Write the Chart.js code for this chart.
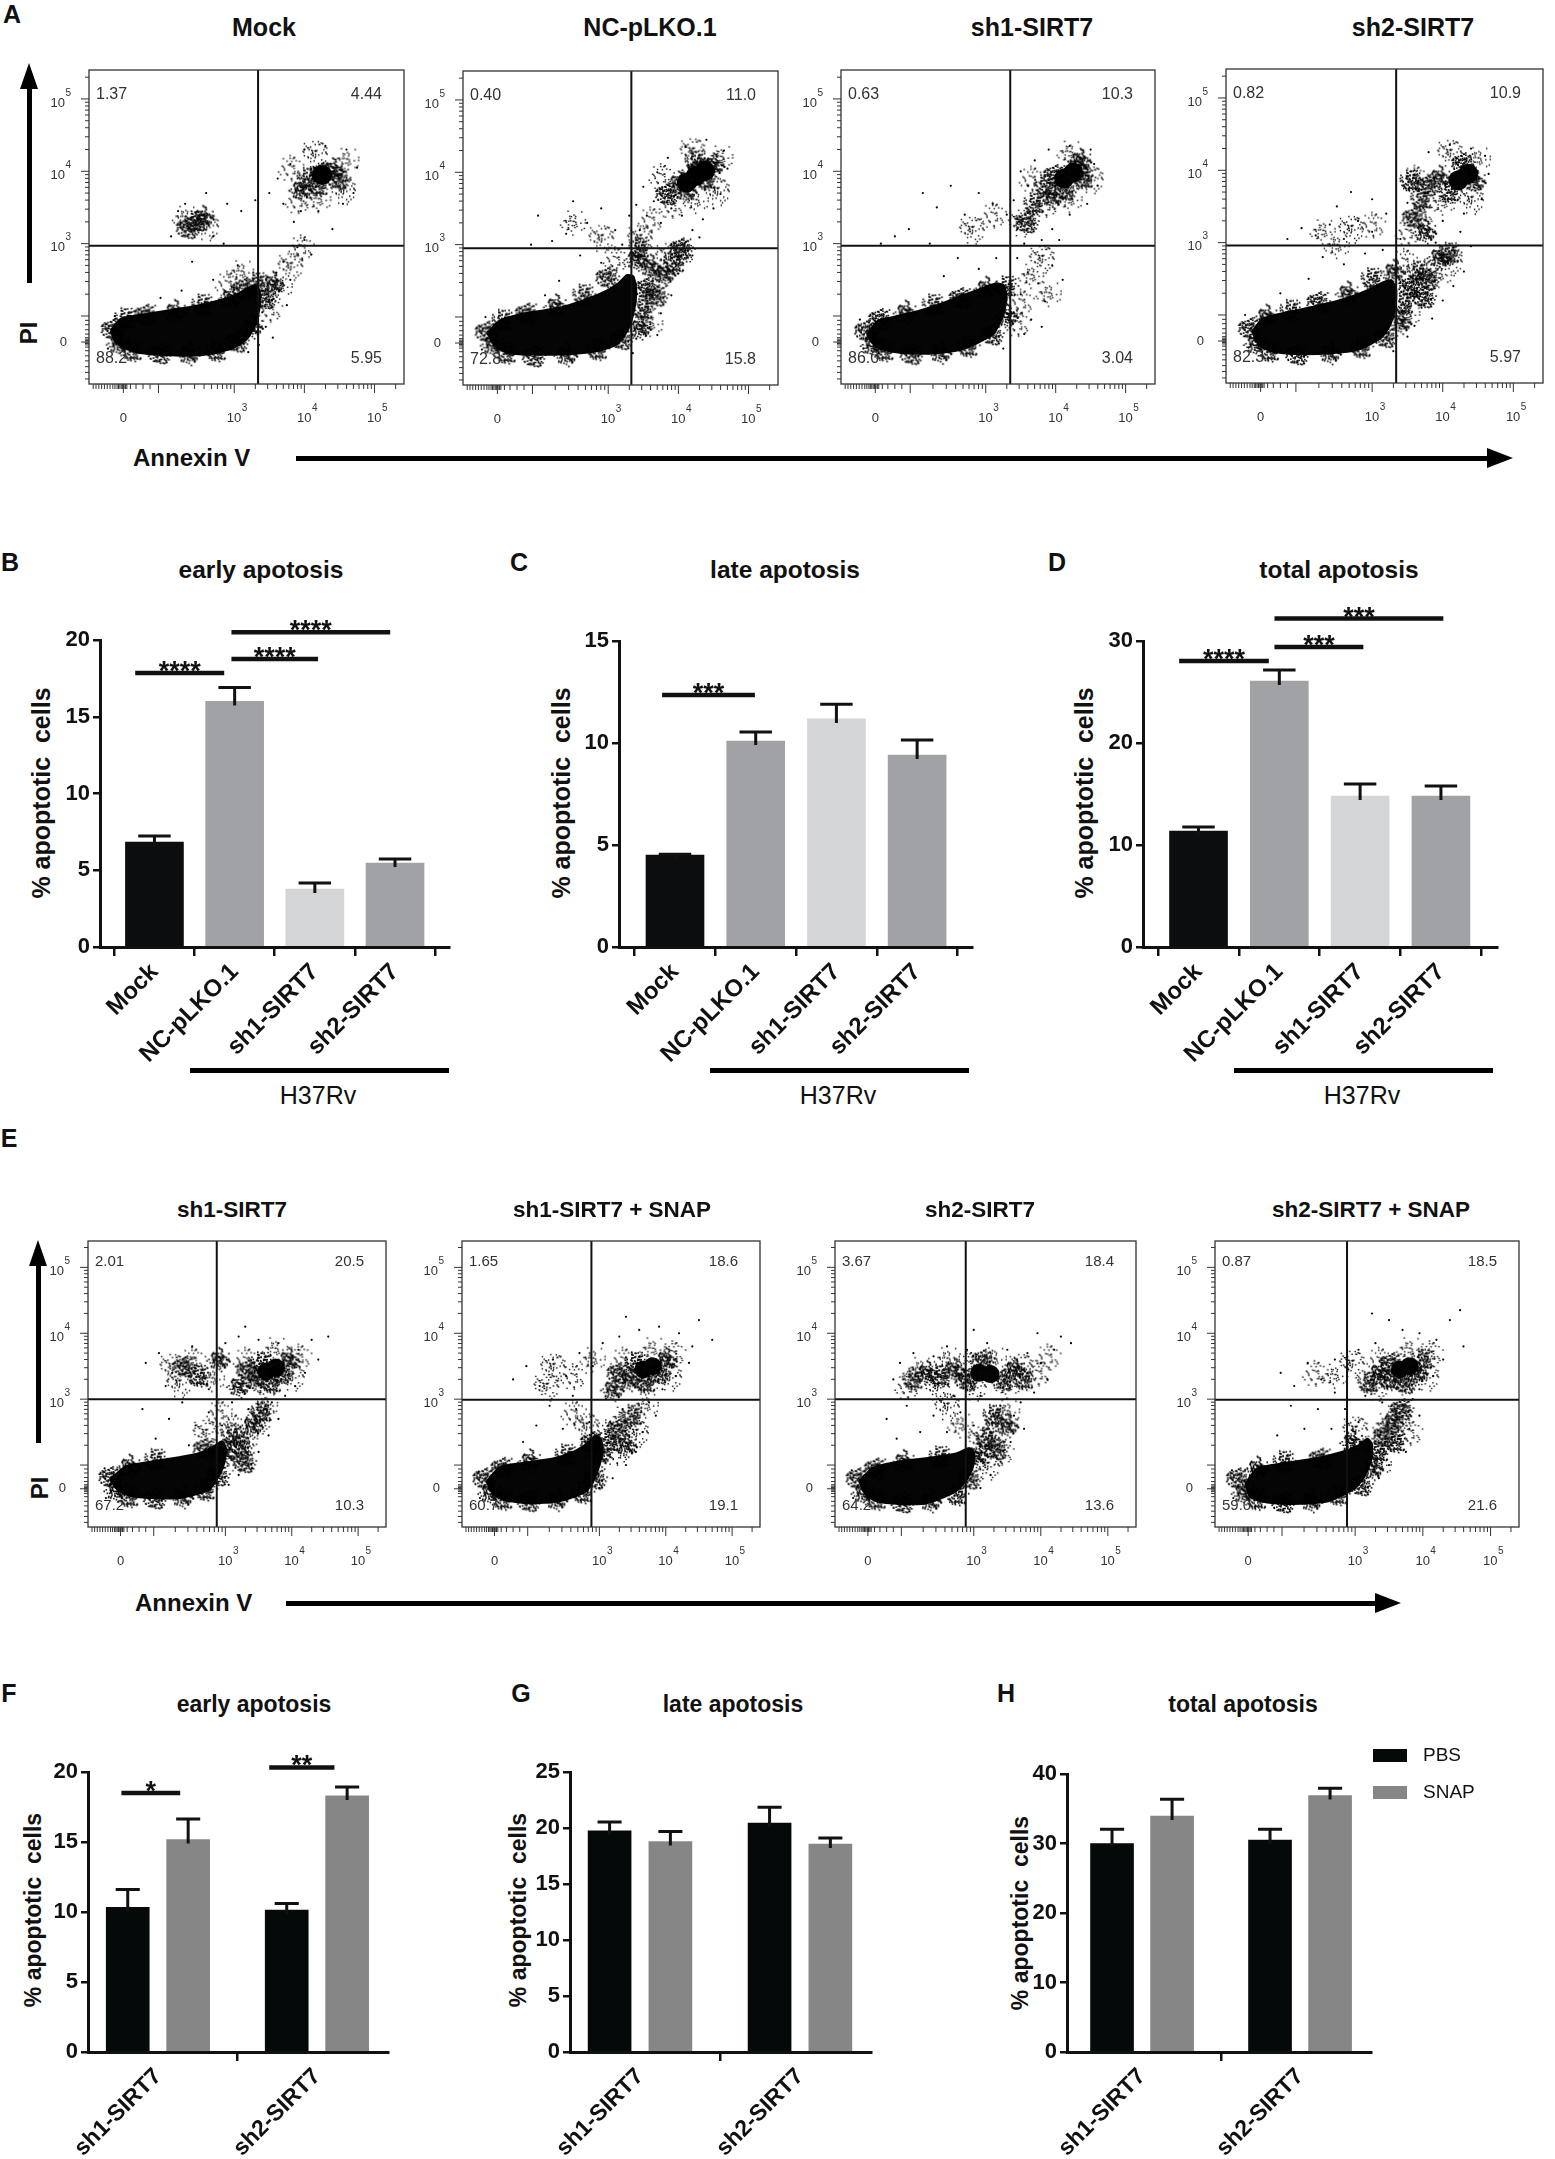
<!DOCTYPE html>
<html>
<head>
<meta charset="utf-8">
<script src="https://cdn.jsdelivr.net/npm/chart.js@4.4.1/dist/chart.umd.min.js"></script>
<style>
  html, body { margin: 0; padding: 0; background: #fff; }
  body { position: relative; width: 1555px; height: 2159px; overflow: hidden; font-family: "Liberation Sans", Arial, sans-serif; color: #111; }
  canvas { position: absolute; }
  .t { position: absolute; white-space: pre; line-height: 1; transform: translate(-50%, -50%); }
  .tl { position: absolute; white-space: pre; line-height: 1; transform: translate(0, -50%); }
  .b { font-weight: bold; }
  .rot { transform: translate(-50%, -50%) rotate(-90deg); }
  .bar { position: absolute; background: #000; }
  .headR { position: absolute; width: 0; height: 0; border-top: 10px solid transparent; border-bottom: 10px solid transparent; border-left: 26px solid #000; }
  .headU { position: absolute; width: 0; height: 0; border-left: 9px solid transparent; border-right: 9px solid transparent; border-bottom: 26px solid #000; }
</style>
</head>
<body>
<!-- panel letters -->
<div class="t b" style="left:12px;top:14px;font-size:25px">A</div>
<div class="t b" style="left:10px;top:562px;font-size:25px">B</div>
<div class="t b" style="left:519px;top:562px;font-size:25px">C</div>
<div class="t b" style="left:1057px;top:562px;font-size:25px">D</div>
<div class="t b" style="left:9px;top:1138px;font-size:25px">E</div>
<div class="t b" style="left:9px;top:1693px;font-size:25px">F</div>
<div class="t b" style="left:521px;top:1693px;font-size:25px">G</div>
<div class="t b" style="left:1006px;top:1693px;font-size:25px">H</div>

<!-- bar chart titles -->
<div class="t b" style="left:261px;top:570px;font-size:24.5px">early apotosis</div>
<div class="t b" style="left:785px;top:570px;font-size:24.5px">late apotosis</div>
<div class="t b" style="left:1339px;top:570px;font-size:24.5px">total apotosis</div>
<div class="t b" style="left:254px;top:1704px;font-size:23px">early apotosis</div>
<div class="t b" style="left:733px;top:1704px;font-size:23px">late apotosis</div>
<div class="t b" style="left:1243px;top:1704px;font-size:23px">total apotosis</div>

<!-- y axis titles -->
<div class="t b rot" style="left:41px;top:793px;font-size:25px">% apoptotic  cells</div>
<div class="t b rot" style="left:561px;top:793px;font-size:25px">% apoptotic  cells</div>
<div class="t b rot" style="left:1084px;top:793px;font-size:25px">% apoptotic  cells</div>
<div class="t b rot" style="left:33px;top:1910px;font-size:23px">% apoptotic  cells</div>
<div class="t b rot" style="left:518px;top:1910px;font-size:23px">% apoptotic  cells</div>
<div class="t b rot" style="left:1020px;top:1913px;font-size:23px">% apoptotic  cells</div>

<!-- H37Rv group marks -->
<div class="bar" style="left:190px;top:1068px;width:259px;height:5px"></div>
<div class="bar" style="left:710px;top:1068px;width:259px;height:5px"></div>
<div class="bar" style="left:1234px;top:1068px;width:259px;height:5px"></div>
<div class="t" style="left:318px;top:1095px;font-size:25px">H37Rv</div>
<div class="t" style="left:838px;top:1095px;font-size:25px">H37Rv</div>
<div class="t" style="left:1362px;top:1095px;font-size:25px">H37Rv</div>

<!-- axis arrows for the dot plots -->
<div class="t b rot" style="left:29px;top:333px;font-size:24px">PI</div>
<div class="bar" style="left:27px;top:88px;width:5px;height:195px"></div>
<div class="headU" style="left:20px;top:63px"></div>
<div class="tl b" style="left:133px;top:458px;font-size:24px">Annexin V</div>
<div class="bar" style="left:296px;top:456px;width:1192px;height:5px"></div>
<div class="headR" style="left:1487px;top:448px"></div>

<div class="t b rot" style="left:40px;top:1488px;font-size:24px">PI</div>
<div class="bar" style="left:36px;top:1265px;width:5px;height:178px"></div>
<div class="headU" style="left:29px;top:1240px"></div>
<div class="tl b" style="left:135px;top:1603px;font-size:24px">Annexin V</div>
<div class="bar" style="left:286px;top:1601px;width:1090px;height:5px"></div>
<div class="headR" style="left:1375px;top:1593px"></div>

<script>
// ---------------- data: flow cytometry dot plots (axis units: 3 = 10^3, 4 = 10^4 ...) ----------------
const flowNamesA = ['Mock', 'NC-pLKO.1', 'sh1-SIRT7', 'sh2-SIRT7'];
const flowNamesE = ['sh1-SIRT7', 'sh1-SIRT7 + SNAP', 'sh2-SIRT7', 'sh2-SIRT7 + SNAP'];
// quadrant percentages: upper-left, upper-right, lower-left, lower-right
const flowPctA = [['1.37', '4.44', '88.2', '5.95'], ['0.40', '11.0', '72.8', '15.8'], ['0.63', '10.3', '86.0', '3.04'], ['0.82', '10.9', '82.3', '5.97']];
const flowPctE = [['2.01', '20.5', '67.2', '10.3'], ['1.65', '18.6', '60.7', '19.1'], ['3.67', '18.4', '64.2', '13.6'], ['0.87', '18.5', '59.0', '21.6']];
// quadrant gates [Annexin V, PI]
const flowGateA = [[3.34, 2.97], [3.33, 2.95], [3.35, 2.97], [3.34, 2.96]];
const flowGateE = [[2.87, 3.0], [2.88, 2.99], [2.88, 3.0], [2.88, 2.99]];

const flowXRange = [0.93, 5.42];
const flowYRange = [1.06, 5.4];
const flowXLabels = [[1.42, '0'], [3, '10', '3'], [4, '10', '4'], [5, '10', '5']];
const flowYLabels = [[1.64, '0'], [3, '10', '3'], [4, '10', '4'], [5, '10', '5']];
const flowXMajor = [1.42, 1.92, 3, 4, 5];
const flowYMajor = [1.64, 2.0, 3, 4, 5];
const flowXNearZero = [0.99, 1.03, 1.07, 1.11, 1.15, 1.19, 1.23, 1.27, 1.3, 1.33, 1.35, 1.37, 1.39, 1.41, 1.43, 1.45, 1.47, 1.52, 1.6, 1.7, 1.8];
const flowYNearZero = [1.13, 1.22, 1.3, 1.38, 1.45, 1.52, 1.57, 1.6, 1.62, 1.64, 1.66, 1.68, 1.7, 1.75, 1.81, 1.88, 1.94];
const flowXDecades = [[1.92, 1.08], [3, 1], [4, 1], [5, 1]];
const flowYDecades = [[2.0, 1.0], [3, 1], [4, 1], [5, 1]];

// blob = outline of the saturated live-cell population, core = solid cluster centres,
// halo = dense speckle, mist = light speckle, dots = single events
const mockBlob = [[1.24,1.80],[1.38,1.96],[1.70,2.02],[2.01,2.07],[2.35,2.12],[2.64,2.18],[2.90,2.25],[3.08,2.32],[3.22,2.40],[3.32,2.42],[3.37,2.30],[3.36,2.10],[3.30,1.88],[3.18,1.68],[2.99,1.56],[2.70,1.48],[2.36,1.45],[2.00,1.46],[1.66,1.49],[1.45,1.55],[1.30,1.65],[1.24,1.80]];
const mockCore = [[4.25,3.95]];
const mockHalo = [[1.28,1.82],[1.35,1.62],[1.55,1.52],[1.95,1.49],[2.35,1.48],[2.75,1.52],[3.05,1.65],[3.25,1.85],[3.33,2.45],[3.15,2.38],[2.95,2.25],[1.45,1.96],[1.75,2.02],[2.15,2.06],[2.55,2.15],[3.45,2.25],[3.55,2.45],[4.05,3.90],[4.25,3.98],[4.40,4.02],[4.20,3.80],[4.50,3.90],[3.95,3.75],[2.45,3.30],[2.35,3.22],[2.55,3.36]];
const mockMist = [[3.9,3.6],[4.2,3.6],[4.55,3.75],[3.8,4.05],[4.6,4.15],[4.15,4.25],[3.5,2.1],[3.65,2.4],[3.8,2.7],[3.95,2.95],[2.3,3.35],[2.6,3.25],[2.9,2.45],[3.1,2.6]];
const mockDots = [[3.40,2.05],[3.50,2.20],[3.60,2.60],[3.70,2.75],[3.80,2.50],[3.90,2.95],[4.00,3.05],[3.65,2.35],[3.45,1.85],[3.55,1.70],[3.75,2.15],[4.10,2.85],[3.85,3.30],[3.70,3.55],[3.50,3.70],[3.62,3.90],[3.80,4.10],[4.00,4.30],[4.30,4.35],[4.60,4.30],[4.75,4.05],[4.70,3.70],[4.55,3.55],[4.20,3.45],[3.95,3.45],[4.40,3.20],[3.30,3.60],[3.10,3.45],[2.90,3.55],[2.70,3.10],[2.20,3.45],[2.10,3.10],[2.30,3.55],[2.60,3.70],[2.85,3.00],[2.40,2.75],[2.70,2.50],[3.05,2.70],[1.95,2.25],[2.25,2.35],[1.20,1.55],[1.30,2.00],[3.20,1.50],[3.35,1.60]];

const ncBlob = [[1.28,1.78],[1.45,1.95],[1.80,2.05],[2.28,2.12],[2.70,2.25],[2.97,2.36],[3.15,2.47],[3.27,2.58],[3.36,2.56],[3.40,2.36],[3.37,2.10],[3.29,1.84],[3.12,1.62],[2.80,1.52],[2.30,1.48],[1.90,1.48],[1.58,1.50],[1.38,1.60],[1.28,1.78]];
const ncCore = [[4.25,3.95],[4.12,3.86],[4.38,4.02]];
const ncHalo = [[1.28,1.80],[1.35,1.62],[1.55,1.50],[1.95,1.46],[2.40,1.48],[2.85,1.55],[3.20,1.70],[3.45,1.85],[3.50,2.10],[3.55,2.40],[3.60,2.70],[3.45,2.95],[3.70,2.30],[3.80,2.60],[1.50,1.95],[1.85,2.05],[2.25,2.15],[2.65,2.30],[3.00,2.55],[3.40,2.80],[3.95,2.75],[4.05,2.95],[4.00,3.85],[4.20,3.95],[4.35,4.05],[4.10,3.75],[4.40,3.90],[3.85,3.70],[4.50,4.10],[4.25,4.15]];
const ncMist = [[3.9,3.55],[4.25,3.6],[4.55,3.75],[3.75,3.95],[4.6,4.2],[4.2,4.3],[3.5,2.2],[3.7,2.55],[3.85,2.85],[4.05,2.9],[3.6,1.9],[3.45,3.1],[3.6,3.35],[2.5,3.3],[2.9,3.1],[3.1,2.8]];
const ncDots = [[3.45,3.20],[3.55,3.40],[3.65,3.60],[3.75,3.30],[3.90,3.50],[4.05,3.40],[4.20,3.20],[4.35,3.35],[4.50,3.50],[4.60,3.70],[4.70,4.05],[4.65,4.30],[4.40,4.45],[4.10,4.35],[3.85,4.20],[3.70,4.00],[3.50,3.80],[3.40,3.55],[4.30,3.10],[4.20,2.85],[4.00,2.60],[3.90,2.30],[3.75,2.05],[3.60,1.90],[3.70,1.75],[3.40,1.70],[3.30,3.40],[3.10,3.20],[2.90,3.50],[2.70,3.30],[2.50,3.60],[2.40,3.15],[2.20,3.05],[2.00,3.40],[1.90,3.00],[2.60,2.85],[2.90,2.75],[3.20,3.00],[2.30,2.50],[2.10,2.30],[1.20,1.55],[1.25,2.00],[3.35,1.50]];

const sh1Blob = [[1.30,1.75],[1.45,1.93],[1.65,1.98],[2.00,2.06],[2.33,2.16],[2.65,2.28],[2.94,2.38],[3.15,2.45],[3.26,2.42],[3.30,2.25],[3.24,1.98],[3.10,1.75],[2.70,1.55],[2.33,1.49],[1.95,1.48],[1.65,1.51],[1.42,1.58],[1.30,1.75]];
const sh1Core = [[4.12,3.90],[4.25,3.98]];
const sh1Halo = [[1.30,1.80],[1.38,1.60],[1.55,1.52],[1.95,1.48],[2.35,1.50],[2.75,1.58],[3.10,1.75],[3.30,2.00],[3.30,2.40],[1.50,1.96],[1.85,2.05],[2.25,2.15],[2.65,2.25],[3.00,2.38],[3.85,3.80],[4.00,3.95],[4.30,4.05],[4.40,3.90],[4.15,3.75],[3.95,3.65],[3.70,3.55],[3.60,3.30],[4.35,4.15]];
const sh1Mist = [[3.85,3.55],[4.2,3.6],[4.5,3.9],[3.65,3.9],[4.2,4.25],[3.5,3.3],[3.5,2.2],[3.65,2.55],[3.8,2.8],[3.45,1.9],[3.9,2.3],[2.8,3.2],[3.1,3.4]];
const sh1Dots = [[3.40,3.60],[3.45,3.20],[3.55,3.00],[3.60,3.80],[3.50,4.00],[3.70,4.15],[3.90,4.30],[4.20,4.35],[4.50,4.30],[4.55,4.10],[4.60,3.80],[4.45,3.55],[4.20,3.40],[3.95,3.20],[3.80,3.05],[4.05,3.05],[3.45,2.80],[3.60,2.60],[3.75,2.45],[3.85,2.20],[3.95,2.70],[4.10,2.50],[3.50,2.30],[3.40,2.05],[3.65,1.95],[3.55,1.75],[3.80,1.85],[3.30,3.40],[3.10,3.55],[2.90,3.70],[2.70,3.40],[2.50,3.80],[2.30,3.50],[2.10,3.70],[1.90,3.20],[1.70,3.10],[1.50,3.00],[2.20,3.00],[2.60,2.80],[2.90,2.65],[3.15,2.80],[2.40,2.55],[1.25,1.55],[1.20,1.95],[3.25,1.55]];

const sh2Blob = [[1.30,1.77],[1.45,1.95],[1.80,2.04],[2.20,2.12],[2.60,2.22],[2.95,2.35],[3.15,2.45],[3.27,2.48],[3.34,2.36],[3.33,2.10],[3.25,1.85],[3.12,1.68],[2.80,1.52],[2.40,1.47],[1.95,1.46],[1.60,1.49],[1.40,1.58],[1.30,1.77]];
const sh2Core = [[4.22,3.86],[4.36,3.95]];
const sh2Halo = [[1.28,1.82],[1.35,1.60],[1.55,1.50],[1.95,1.46],[2.40,1.48],[2.85,1.55],[3.20,1.70],[3.40,1.90],[3.45,2.15],[3.55,2.40],[3.30,2.60],[3.65,2.60],[3.80,2.50],[3.95,2.80],[4.10,2.85],[3.75,2.25],[1.50,1.98],[1.85,2.06],[2.25,2.18],[2.65,2.30],[3.00,2.50],[3.80,3.80],[3.95,3.90],[4.10,3.70],[4.30,4.10],[4.45,3.85],[3.70,3.60],[3.60,3.35],[3.75,3.15],[3.55,3.85]];
const sh2Mist = [[3.7,3.4],[4.0,3.55],[4.4,3.6],[3.6,3.9],[4.5,4.15],[4.1,4.25],[3.5,3.15],[3.5,2.0],[3.6,2.3],[3.75,2.6],[3.95,2.55],[4.1,2.75],[3.45,2.75],[2.3,3.15],[2.7,3.2],[3.0,3.25],[2.5,2.95]];
const sh2Dots = [[2.00,3.20],[2.20,3.10],[2.40,3.25],[2.60,3.05],[2.80,3.30],[3.00,3.15],[3.20,3.40],[2.50,3.50],[2.70,3.70],[3.00,3.60],[1.80,3.05],[2.30,2.80],[2.60,2.70],[2.90,2.85],[3.15,2.90],[3.40,3.05],[3.50,3.55],[3.60,4.00],[3.80,4.25],[4.10,4.35],[4.40,4.30],[4.60,4.20],[4.65,3.95],[4.55,3.60],[4.30,3.40],[4.00,3.30],[4.25,3.15],[4.40,2.95],[4.30,2.60],[4.15,2.40],[4.00,2.20],[3.85,1.95],[3.60,1.85],[3.50,1.70],[3.70,2.10],[3.90,3.00],[2.10,2.50],[1.70,2.30],[1.25,1.55],[1.20,2.00],[3.30,1.50]];

const eSh1Blob = [[1.26,1.78],[1.50,1.98],[1.87,2.05],[2.30,2.12],[2.60,2.18],[2.82,2.28],[2.95,2.36],[3.01,2.25],[2.98,2.02],[2.88,1.80],[2.75,1.62],[2.30,1.50],[1.90,1.50],[1.58,1.53],[1.38,1.62],[1.26,1.78]];
const eSh1Core = [[3.62,3.42],[3.76,3.48]];
const eSh1Halo = [[1.28,1.82],[1.35,1.62],[1.55,1.52],[1.95,1.50],[2.35,1.52],[2.70,1.62],[2.90,1.85],[3.00,2.20],[3.10,2.45],[3.25,2.30],[3.40,2.60],[3.55,2.80],[3.30,2.05],[1.55,1.98],[1.95,2.08],[2.70,2.25],[3.45,3.30],[3.55,3.55],[3.85,3.40],[3.95,3.60],[3.70,3.25],[3.35,3.45],[3.20,3.20],[2.60,3.35],[2.40,3.50],[2.90,3.60]];
const eSh1Mist = [[3.3,3.6],[3.6,3.2],[4.0,3.35],[4.1,3.65],[3.75,3.75],[2.2,3.5],[2.5,3.6],[2.8,3.3],[2.3,3.25],[3.1,2.6],[3.3,2.4],[3.5,2.7],[3.2,2.1],[3.6,2.9],[2.7,2.5],[2.9,2.8]];
const eSh1Dots = [[1.80,3.55],[2.00,3.70],[2.20,3.40],[2.10,3.20],[2.50,3.80],[2.75,3.15],[3.00,3.85],[3.20,3.95],[3.50,3.90],[3.80,3.85],[4.10,3.75],[4.30,3.90],[4.40,3.60],[4.20,3.40],[4.05,3.20],[3.90,3.05],[3.70,2.95],[3.80,2.70],[3.65,2.45],[3.50,2.20],[3.40,1.95],[3.20,1.85],[3.05,1.70],[2.95,2.60],[2.75,2.80],[2.55,2.60],[2.35,2.95],[2.15,2.70],[1.95,2.40],[1.75,2.85],[2.45,2.30],[3.10,2.95],[3.35,2.85],[1.20,1.50],[1.18,1.95],[4.55,3.95],[3.30,4.10]];

const eSh1SnapBlob = [[1.30,1.75],[1.50,1.97],[1.90,2.04],[2.30,2.10],[2.60,2.20],[2.80,2.32],[2.95,2.45],[3.03,2.38],[3.04,2.15],[2.95,1.85],[2.80,1.60],[2.40,1.45],[1.95,1.42],[1.60,1.46],[1.40,1.56],[1.30,1.75]];
const eSh1SnapCore = [[3.66,3.45],[3.80,3.50]];
const eSh1SnapHalo = [[1.28,1.80],[1.35,1.58],[1.55,1.48],[1.95,1.46],[2.35,1.48],[2.75,1.58],[2.95,1.80],[3.00,2.15],[3.15,2.35],[3.30,2.55],[3.40,2.30],[3.50,2.75],[1.55,1.96],[1.95,2.06],[2.50,2.15],[2.90,2.35],[3.45,3.30],[3.55,3.55],[3.90,3.40],[4.00,3.60],[3.70,3.25],[3.30,3.40],[3.20,3.15]];
const eSh1SnapMist = [[3.35,3.6],[3.7,3.25],[4.05,3.35],[4.1,3.7],[3.8,3.75],[2.3,3.5],[2.6,3.35],[2.9,3.6],[2.2,3.2],[3.1,2.5],[3.35,2.7],[3.55,2.5],[3.25,2.2],[3.7,2.9],[2.8,2.6],[2.6,2.8]];
const eSh1SnapDots = [[1.70,3.30],[1.90,3.50],[2.10,3.20],[2.30,3.60],[2.50,3.35],[2.70,3.70],[2.90,3.50],[3.05,3.85],[3.30,3.95],[3.60,4.05],[3.90,4.10],[4.20,4.00],[4.40,3.80],[4.50,4.20],[4.35,3.55],[4.15,3.35],[3.95,3.15],[3.75,2.95],[3.85,2.75],[3.65,2.50],[3.55,2.20],[3.40,2.00],[3.20,1.80],[3.00,1.65],[2.85,2.65],[2.65,2.85],[2.45,2.55],[2.25,2.90],[2.05,2.60],[1.85,2.35],[2.60,3.05],[3.10,3.00],[3.35,2.85],[1.20,1.50],[1.18,1.90],[4.70,3.90],[3.40,4.25]];

const eSh2Blob = [[1.29,1.76],[1.50,1.96],[1.93,2.06],[2.40,2.12],[2.75,2.18],[2.93,2.26],[3.01,2.18],[2.99,1.98],[2.88,1.75],[2.70,1.58],[2.30,1.42],[1.90,1.41],[1.55,1.45],[1.38,1.56],[1.29,1.76]];
const eSh2Core = [[3.08,3.40],[3.25,3.38]];
const eSh2Halo = [[1.28,1.80],[1.35,1.58],[1.55,1.48],[1.95,1.44],[2.35,1.46],[2.75,1.55],[2.95,1.80],[3.05,2.15],[3.20,2.40],[3.35,2.25],[3.50,2.60],[3.30,2.75],[1.55,1.95],[1.95,2.05],[2.50,2.12],[2.90,3.30],[2.70,3.45],[2.50,3.35],[3.45,3.30],[3.60,3.45],[3.75,3.30],[3.15,3.60],[2.30,3.40],[2.10,3.30]];
const eSh2Mist = [[2.9,3.55],[3.3,3.6],[3.7,3.5],[3.95,3.4],[3.5,3.2],[3.0,3.2],[4.1,3.65],[2.2,3.45],[2.45,3.2],[2.0,3.2],[2.6,3.6],[3.1,2.4],[3.3,2.6],[3.5,2.8],[3.2,2.0],[3.4,2.2],[2.8,2.6],[2.6,2.9]];
const eSh2Dots = [[1.80,3.30],[1.90,3.55],[2.10,3.70],[2.40,3.65],[2.60,3.80],[2.90,3.75],[3.20,3.85],[3.50,3.75],[3.80,3.70],[4.00,3.55],[4.20,3.75],[4.30,3.95],[4.45,3.85],[4.10,3.30],[3.90,3.10],[3.70,2.95],[3.60,2.75],[3.75,2.55],[3.55,2.35],[3.40,2.05],[3.25,1.85],[3.10,1.65],[3.00,2.60],[2.80,2.80],[2.60,2.50],[2.40,2.75],[2.20,2.50],[2.00,2.90],[1.85,2.40],[1.70,2.70],[2.70,3.05],[3.10,3.05],[3.40,2.90],[1.20,1.50],[1.18,1.92],[3.00,4.05],[3.95,4.00]];

const eSh2SnapBlob = [[1.38,1.72],[1.55,1.95],[1.95,2.03],[2.40,2.10],[2.80,2.20],[3.05,2.30],[3.18,2.40],[3.25,2.32],[3.24,2.10],[3.15,1.85],[3.00,1.65],[2.60,1.45],[2.10,1.41],[1.70,1.43],[1.45,1.52],[1.38,1.72]];
const eSh2SnapCore = [[3.66,3.45],[3.80,3.50]];
const eSh2SnapHalo = [[1.28,1.80],[1.35,1.58],[1.55,1.48],[1.95,1.44],[2.35,1.46],[2.75,1.55],[3.10,1.70],[3.25,1.95],[3.35,2.20],[3.45,2.45],[3.55,2.65],[3.60,2.35],[3.70,2.85],[1.55,1.95],[1.95,2.05],[2.50,2.10],[2.95,2.35],[3.50,3.30],[3.55,3.55],[3.90,3.40],[4.00,3.60],[3.75,3.25],[3.35,3.40],[3.20,3.25]];
const eSh2SnapMist = [[3.35,3.6],[3.7,3.25],[4.05,3.35],[4.1,3.7],[3.8,3.75],[3.3,3.2],[2.4,3.4],[2.7,3.35],[2.95,3.55],[3.3,2.3],[3.45,2.6],[3.65,2.75],[3.8,2.5],[3.35,2.0],[3.0,2.55]];
const eSh2SnapDots = [[1.90,3.40],[2.10,3.20],[2.30,3.55],[2.50,3.30],[2.70,3.60],[2.90,3.45],[3.05,3.75],[3.30,3.85],[3.50,4.20],[3.70,4.05],[3.95,4.00],[4.20,3.90],[4.40,4.20],[4.55,4.35],[4.30,3.60],[4.15,3.35],[3.95,3.15],[3.85,3.00],[3.95,2.75],[3.80,2.55],[3.75,2.20],[3.50,2.00],[3.35,1.80],[3.15,1.60],[3.05,2.65],[2.85,2.85],[2.65,2.55],[2.45,2.85],[2.25,2.55],[2.05,2.90],[1.85,2.45],[2.70,3.10],[3.15,3.05],[3.40,2.95],[1.20,1.50],[1.18,1.92],[4.60,3.80],[3.25,4.30]];

// ---------------- data: bar charts ----------------
const groupsBD = ['Mock', 'NC-pLKO.1', 'sh1-SIRT7', 'sh2-SIRT7'];
const colorsBD = ['#0b0d0e', '#a1a2a5', '#d4d5d6', '#a1a2a5'];
const earlyB = [6.84, 16.0, 3.78, 5.47];
const earlyBErr = [0.39, 0.9, 0.39, 0.26];
const lateC = [4.5, 10.1, 11.18, 9.41];
const lateCErr = [0.05, 0.44, 0.72, 0.74];
const totalD = [11.37, 26.08, 14.8, 14.8];
const totalDErr = [0.39, 1.08, 1.18, 0.98];
// significance bars: [from, to, level, label] in category units
const sigB = [[-0.24, 0.87, 17.85, '****'], [0.96, 2.04, 18.76, '****'], [0.96, 2.94, 20.5, '****']];
const sigC = [[-0.16, 0.99, 12.35, '***']];
const sigD = [[-0.24, 0.87, 28.04, '****'], [0.94, 2.04, 29.4, '***'], [0.94, 3.03, 32.2, '***']];

const groupsFH = ['sh1-SIRT7', 'sh2-SIRT7'];
const treatments = ['PBS', 'SNAP'];
const colorsFH = ['#060909', '#868686'];
const earlyPBS = [10.34, 10.14], earlyPBSErr = [1.26, 0.46];
const earlySNAP = [15.18, 18.29], earlySNAPErr = [1.46, 0.64];
const latePBS = [19.75, 20.45], latePBSErr = [0.79, 1.4];
const lateSNAP = [18.79, 18.57], lateSNAPErr = [0.89, 0.53];
const totalPBS = [30.0, 30.5], totalPBSErr = [2.05, 1.55];
const totalSNAP = [33.95, 36.9], totalSNAPErr = [2.4, 1.04];
const sigF = [[-0.23, 0.14, 18.5, '*'], [0.70, 1.11, 20.33, '**']];

// ---------------- drawing ----------------
Chart.defaults.font.family = '"Liberation Sans", Arial, sans-serif';
Chart.defaults.color = '#111';
const FONT = '"Liberation Sans", Arial, sans-serif';

function addCanvas(left, top, w, h) {
  const cv = document.createElement('canvas');
  cv.width = w; cv.height = h;
  Object.assign(cv.style, { left: left + 'px', top: top + 'px', width: w + 'px', height: h + 'px' });
  document.body.appendChild(cv);
  return cv;
}
function zeroPad(s) { s.paddingLeft = 0; s.paddingRight = 0; s.paddingTop = 0; s.paddingBottom = 0; }
function decadeTicks(decades) {
  const out = [];
  decades.forEach(([start, len]) => { for (let k = 2; k <= 9; k++) out.push(start + len * Math.log10(k)); });
  return out;
}
const flowXMinor = flowXNearZero.concat(decadeTicks(flowXDecades));
const flowYMinor = flowYNearZero.concat(decadeTicks(flowYDecades));

// grainy disc used only as a point *style* (a texture, not data): hashed grain that thins toward the rim
function grain(k) { const s = Math.sin(k * 12.9898 + 78.233) * 43758.5453; return s - Math.floor(s); }
function speckle(r, n, dot, seed) {
  const c = document.createElement('canvas');
  c.width = c.height = 2 * r + 4;
  const g = c.getContext('2d');
  g.fillStyle = '#000';
  for (let k = 0; k < n; k++) {
    const dx = (grain(seed + k * 3) * 2 - 1) * r;
    const dy = (grain(seed + k * 3 + 1) * 2 - 1) * r;
    const d = Math.sqrt(dx * dx + dy * dy) / r;
    if (d > 1 || grain(seed + k * 3 + 2) < d * d) continue;
    g.fillRect(r + 2 + dx - dot / 2, r + 2 + dy - dot / 2, dot, dot);
  }
  return c;
}
const haloSprites = [speckle(13, 240, 1.6, 1), speckle(13, 240, 1.6, 1001), speckle(13, 240, 1.6, 2003)];
const mistSprites = [speckle(16, 110, 1.4, 3011), speckle(16, 110, 1.4, 4007), speckle(16, 110, 1.4, 5009)];

function addTitle(text, x, y, size) {
  const d = document.createElement('div');
  d.className = 't b';
  d.textContent = text;
  Object.assign(d.style, { left: x + 'px', top: y + 'px', fontSize: size + 'px' });
  document.body.appendChild(d);
}

const flowPlugin = {
  id: 'flowFrame',
  afterDraw(chart, args, o) {
    const { ctx, chartArea: a, scales: { x, y } } = chart;
    ctx.save();
    // quadrant gates
    const gx = x.getPixelForValue(o.gate[0]), gy = y.getPixelForValue(o.gate[1]);
    ctx.strokeStyle = '#111'; ctx.lineWidth = 2;
    ctx.beginPath();
    ctx.moveTo(gx, a.top); ctx.lineTo(gx, a.bottom);
    ctx.moveTo(a.left, gy); ctx.lineTo(a.right, gy);
    ctx.stroke();
    // frame
    ctx.strokeStyle = '#333'; ctx.lineWidth = 1.3;
    ctx.strokeRect(a.left, a.top, a.right - a.left, a.bottom - a.top);
    // tick marks
    ctx.lineWidth = 1; ctx.beginPath();
    flowXMinor.forEach(v => { if (v <= x.min || v >= x.max) return; const p = x.getPixelForValue(v); ctx.moveTo(p, a.bottom); ctx.lineTo(p, a.bottom + 5); });
    flowXMajor.forEach(v => { const p = x.getPixelForValue(v); ctx.moveTo(p, a.bottom); ctx.lineTo(p, a.bottom + 9); });
    flowYMinor.forEach(v => { if (v <= y.min || v >= y.max) return; const p = y.getPixelForValue(v); ctx.moveTo(a.left, p); ctx.lineTo(a.left - 4, p); });
    flowYMajor.forEach(v => { const p = y.getPixelForValue(v); ctx.moveTo(a.left, p); ctx.lineTo(a.left - 8, p); });
    ctx.stroke();
    // tick labels
    ctx.fillStyle = '#333'; ctx.textBaseline = 'middle';
    flowXLabels.forEach(([v, base, exp]) => {
      const p = x.getPixelForValue(v);
      ctx.font = '13px ' + FONT;
      if (!exp) { ctx.textAlign = 'center'; ctx.fillText(base, p, a.bottom + 34); return; }
      ctx.textAlign = 'right'; ctx.fillText(base, p + 7, a.bottom + 34);
      ctx.font = '10px ' + FONT; ctx.textAlign = 'left'; ctx.fillText(exp, p + 7.5, a.bottom + 24);
    });
    flowYLabels.forEach(([v, base, exp]) => {
      const p = y.getPixelForValue(v);
      ctx.font = '13px ' + FONT;
      if (!exp) { ctx.textAlign = 'right'; ctx.fillText(base, a.left - 22, p); return; }
      ctx.textAlign = 'right'; ctx.fillText(base, a.left - 24, p + 4);
      ctx.font = '10px ' + FONT; ctx.textAlign = 'left'; ctx.fillText(exp, a.left - 23.5, p - 6);
    });
    // quadrant percentages
    ctx.font = o.pctFont + 'px ' + FONT;
    ctx.textAlign = 'left';
    ctx.fillText(o.pct[0], a.left + 7, a.top + o.pctDy);
    ctx.fillText(o.pct[2], a.left + 7, a.bottom - o.pctDy);
    ctx.textAlign = 'right';
    ctx.fillText(o.pct[1], a.right - 22, a.top + o.pctDy);
    ctx.fillText(o.pct[3], a.right - 22, a.bottom - o.pctDy);
    ctx.restore();
  }
};

function makeFlow(box, p, look) {
  const L = 60, T = 4, B = 50, R = 4;
  const cv = addCanvas(box.x - L, box.y - T, L + box.w + R, T + box.h + B);
  const pts = d => d.map(([x, y]) => ({ x, y }));
  new Chart(cv, {
    type: 'scatter',
    data: {
      datasets: [
        { data: pts(p.mist), pointStyle: c => mistSprites[c.dataIndex % 3], pointRadius: 16 },
        { data: pts(p.halo), pointStyle: c => haloSprites[c.dataIndex % 3], pointRadius: 13 },
        { data: pts(p.blob), showLine: true, fill: 'shape', tension: 0.2, backgroundColor: '#050505', borderColor: '#050505', borderWidth: 2, pointRadius: 0 },
        { data: pts(p.core), pointRadius: look.core, pointBackgroundColor: '#050505', pointBorderWidth: 0 },
        { data: pts(p.dots), pointRadius: 1.1, pointBackgroundColor: '#000', pointBorderWidth: 0 }
      ]
    },
    options: {
      responsive: false, animation: false, events: [],
      layout: { padding: { top: T, right: R, left: 0, bottom: 0 } },
      plugins: {
        legend: { display: false }, tooltip: { enabled: false },
        flowFrame: { gate: p.gate, pct: p.pct, pctFont: look.pct, pctDy: look.pctDy }
      },
      scales: {
        x: { type: 'linear', min: flowXRange[0], max: flowXRange[1], ticks: { display: false }, grid: { display: false }, border: { display: false }, afterFit: s => { s.height = B; zeroPad(s); } },
        y: { type: 'linear', min: flowYRange[0], max: flowYRange[1], ticks: { display: false }, grid: { display: false }, border: { display: false }, afterFit: s => { s.width = L; zeroPad(s); } }
      }
    },
    plugins: [flowPlugin]
  });
}

const barExtras = {
  id: 'barExtras',
  afterDatasetsDraw(chart, args, o) {
    const { ctx, chartArea: a, scales: { x, y } } = chart;
    ctx.save();
    ctx.strokeStyle = '#111'; ctx.fillStyle = '#111'; ctx.lineWidth = 3;
    // upper error bars
    chart.data.datasets.forEach((ds, di) => {
      chart.getDatasetMeta(di).data.forEach((bar, i) => {
        const top = y.getPixelForValue(ds.data[i].y + ds.errors[i]);
        const half = bar.width * 0.28;
        ctx.beginPath();
        ctx.moveTo(bar.x, bar.y + 4); ctx.lineTo(bar.x, top);
        ctx.moveTo(bar.x - half, top); ctx.lineTo(bar.x + half, top);
        ctx.stroke();
      });
    });
    // significance bars
    ctx.lineWidth = 4.5;
    (o.brackets || []).forEach(([x1, x2, v, label]) => {
      const py = y.getPixelForValue(v), p1 = x.getPixelForValue(x1), p2 = x.getPixelForValue(x2);
      ctx.beginPath(); ctx.moveTo(p1, py); ctx.lineTo(p2, py); ctx.stroke();
      ctx.font = 'bold 27px ' + FONT; ctx.textAlign = 'center'; ctx.textBaseline = 'alphabetic';
      ctx.fillText(label, (p1 + p2) / 2, py + 7);
    });
    // legend
    if (o.legend) {
      ctx.font = '19px ' + FONT; ctx.textAlign = 'left'; ctx.textBaseline = 'middle';
      chart.data.datasets.forEach((ds, i) => {
        const top = a.top - 25 + i * 37;
        ctx.fillStyle = ds.backgroundColor;
        ctx.fillRect(a.right + 2, top, 34, 13);
        ctx.fillStyle = '#111';
        ctx.fillText(ds.label, a.right + 52, top + 7);
      });
    }
    ctx.restore();
  }
};

function makeBar(box, o) {
  const L = 70, T = 70, B = 170, R = o.right || 12;
  const cv = addCanvas(box.x - L, box.y - T, L + box.w + R, T + box.h + B);
  new Chart(cv, {
    type: 'bar',
    data: {
      datasets: o.sets.map(s => ({
        label: s.label,
        data: s.values.map((v, i) => ({ x: i + (s.offset || 0), y: v })),
        errors: s.errors,
        backgroundColor: s.color,
        borderWidth: 0,
        barThickness: o.barW,
        grouped: false
      }))
    },
    options: {
      responsive: false, animation: false, events: [],
      layout: { padding: { top: T, right: R, left: 0, bottom: 0 } },
      plugins: { legend: { display: false }, tooltip: { enabled: false }, barExtras: { brackets: o.brackets, legend: o.legend } },
      scales: {
        x: {
          type: 'linear', min: o.xmin, max: o.xmax, offset: false,
          afterBuildTicks: s => { s.ticks = o.groups.map((_, i) => ({ value: i })); },
          afterFit: s => { s.height = B; zeroPad(s); },
          ticks: { callback: v => o.groups[v], minRotation: 45, maxRotation: 45, autoSkip: false, font: { size: o.xFont, weight: 'bold' }, color: '#111', padding: 2 },
          grid: { drawOnChartArea: false, drawTicks: true, tickLength: 9, lineWidth: 2.5, color: '#111' },
          border: { display: true, width: 3, color: '#111' }
        },
        y: {
          min: 0, max: o.ymax,
          afterFit: s => { s.width = L; zeroPad(s); },
          ticks: { stepSize: o.step, font: { size: 22, weight: 'bold' }, color: '#111', padding: 3 },
          grid: { drawOnChartArea: false, drawTicks: true, tickLength: 7, lineWidth: 2.5, color: '#111' },
          border: { display: true, width: 3, color: '#111' }
        }
      }
    },
    plugins: [barExtras]
  });
}

// panel A and E dot plots
const boxesA = [{ x: 89, y: 57, w: 328, h: 327 }, { x: 463, y: 58, w: 328, h: 327 }, { x: 841, y: 57, w: 327, h: 327 }, { x: 1226, y: 56, w: 330, h: 327 }];
const boxesE = [{ x: 88, y: 1228, w: 311, h: 299 }, { x: 462, y: 1228, w: 311, h: 299 }, { x: 835, y: 1228, w: 314, h: 299 }, { x: 1215, y: 1228, w: 317, h: 299 }];
const titleXA = [264, 650, 1032, 1413];
const titleXE = [232, 612, 980, 1371];
const plotsA = [
  { blob: mockBlob, core: mockCore, halo: mockHalo, mist: mockMist, dots: mockDots },
  { blob: ncBlob, core: ncCore, halo: ncHalo, mist: ncMist, dots: ncDots },
  { blob: sh1Blob, core: sh1Core, halo: sh1Halo, mist: sh1Mist, dots: sh1Dots },
  { blob: sh2Blob, core: sh2Core, halo: sh2Halo, mist: sh2Mist, dots: sh2Dots }
];
const plotsE = [
  { blob: eSh1Blob, core: eSh1Core, halo: eSh1Halo, mist: eSh1Mist, dots: eSh1Dots },
  { blob: eSh1SnapBlob, core: eSh1SnapCore, halo: eSh1SnapHalo, mist: eSh1SnapMist, dots: eSh1SnapDots },
  { blob: eSh2Blob, core: eSh2Core, halo: eSh2Halo, mist: eSh2Mist, dots: eSh2Dots },
  { blob: eSh2SnapBlob, core: eSh2SnapCore, halo: eSh2SnapHalo, mist: eSh2SnapMist, dots: eSh2SnapDots }
];
plotsA.forEach((p, i) => {
  makeFlow(boxesA[i], { ...p, gate: flowGateA[i], pct: flowPctA[i] }, { core: 10, pct: 16, pctDy: 25 });
  addTitle(flowNamesA[i], titleXA[i], 27, 25);
});
plotsE.forEach((p, i) => {
  makeFlow(boxesE[i], { ...p, gate: flowGateE[i], pct: flowPctE[i] }, { core: 9, pct: 15, pctDy: 21 });
  addTitle(flowNamesE[i], titleXE[i], 1210, 22.5);
});

// panels B, C, D
makeBar({ x: 99.5, y: 640, w: 349.5, h: 307 }, {
  groups: groupsBD, xmin: -0.679, xmax: 3.673, ymax: 20, step: 5, barW: 58, xFont: 24,
  sets: [{ label: 'early', values: earlyB, errors: earlyBErr, color: colorsBD }], brackets: sigB
});
makeBar({ x: 619, y: 641, w: 353, h: 306 }, {
  groups: groupsBD, xmin: -0.694, xmax: 3.68, ymax: 15, step: 5, barW: 58, xFont: 24,
  sets: [{ label: 'late', values: lateC, errors: lateCErr, color: colorsBD }], brackets: sigC
});
makeBar({ x: 1143, y: 641, w: 354, h: 306 }, {
  groups: groupsBD, xmin: -0.687, xmax: 3.694, ymax: 30, step: 10, barW: 58, xFont: 24,
  sets: [{ label: 'total', values: totalD, errors: totalDErr, color: colorsBD }], brackets: sigD
});

// panels F, G, H
makeBar({ x: 88, y: 1772, w: 300, h: 280 }, {
  groups: groupsFH, xmin: -0.44, xmax: 1.447, ymax: 20, step: 5, barW: 43, xFont: 23,
  sets: [
    { label: treatments[0], values: earlyPBS, errors: earlyPBSErr, color: colorsFH[0], offset: -0.19 },
    { label: treatments[1], values: earlySNAP, errors: earlySNAPErr, color: colorsFH[1], offset: 0.19 }
  ], brackets: sigF
});
makeBar({ x: 570, y: 1772, w: 301, h: 280 }, {
  groups: groupsFH, xmin: -0.4375, xmax: 1.444, ymax: 25, step: 5, barW: 43, xFont: 23,
  sets: [
    { label: treatments[0], values: latePBS, errors: latePBSErr, color: colorsFH[0], offset: -0.19 },
    { label: treatments[1], values: lateSNAP, errors: lateSNAPErr, color: colorsFH[1], offset: 0.19 }
  ]
});
makeBar({ x: 1067, y: 1774, w: 304, h: 278 }, {
  groups: groupsFH, xmin: -0.475, xmax: 1.449, ymax: 40, step: 10, barW: 43, xFont: 23, right: 150,
  sets: [
    { label: treatments[0], values: totalPBS, errors: totalPBSErr, color: colorsFH[0], offset: -0.19 },
    { label: treatments[1], values: totalSNAP, errors: totalSNAPErr, color: colorsFH[1], offset: 0.19 }
  ], legend: true
});
</script>
</body>
</html>
